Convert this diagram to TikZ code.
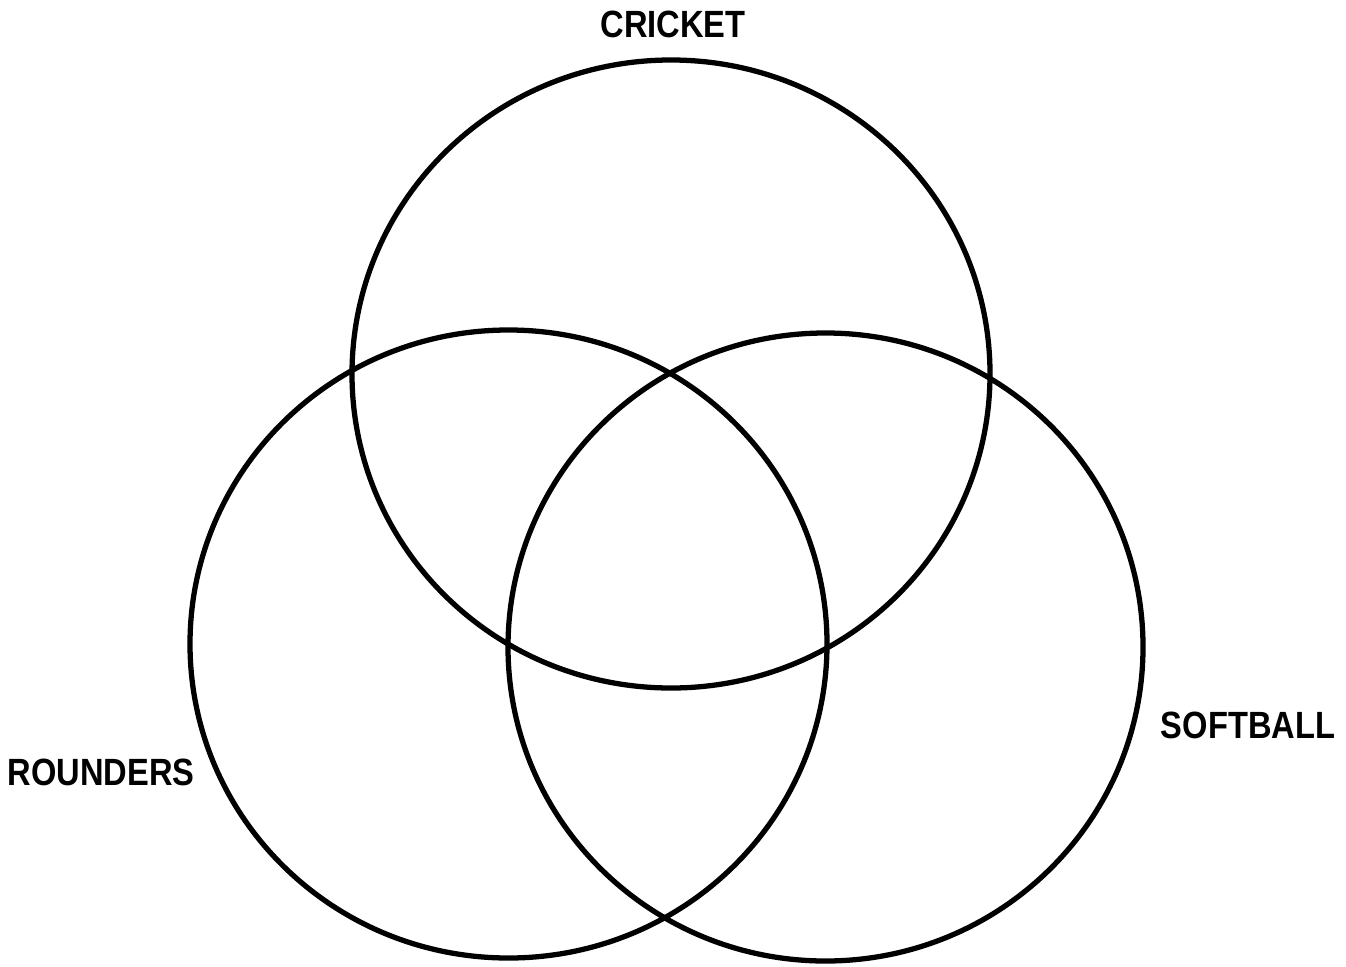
\documentclass[tikz,border=0pt]{standalone}
\usepackage{fontspec}
\setmainfont{Liberation Sans}
\begin{document}
\begin{tikzpicture}[
  ring/.style={draw=black, line width=1.5pt},
  setlabel/.style={font=\bfseries\fontsize{10.8}{12}\selectfont, inner sep=0pt, xscale=0.86, transform shape}
]
\useasboundingbox (0,0) rectangle (13.46,9.66);
\fill[white] (0,0) rectangle (13.46,9.66);
\draw[ring] (6.71,5.92) ellipse [x radius=3.19, y radius=3.14];
\draw[ring] (5.085,3.22) ellipse [x radius=3.185, y radius=3.14];
\draw[ring] (8.255,3.19) ellipse [x radius=3.175, y radius=3.14];
\node[setlabel] (cricket) at (6.73,9.42) {CRICKET};
\node[setlabel] (rounders) at (1.01,1.94) {ROUNDERS};
\node[setlabel] (softball) at (12.48,2.41) {SOFTBALL};
\end{tikzpicture}
\end{document}
